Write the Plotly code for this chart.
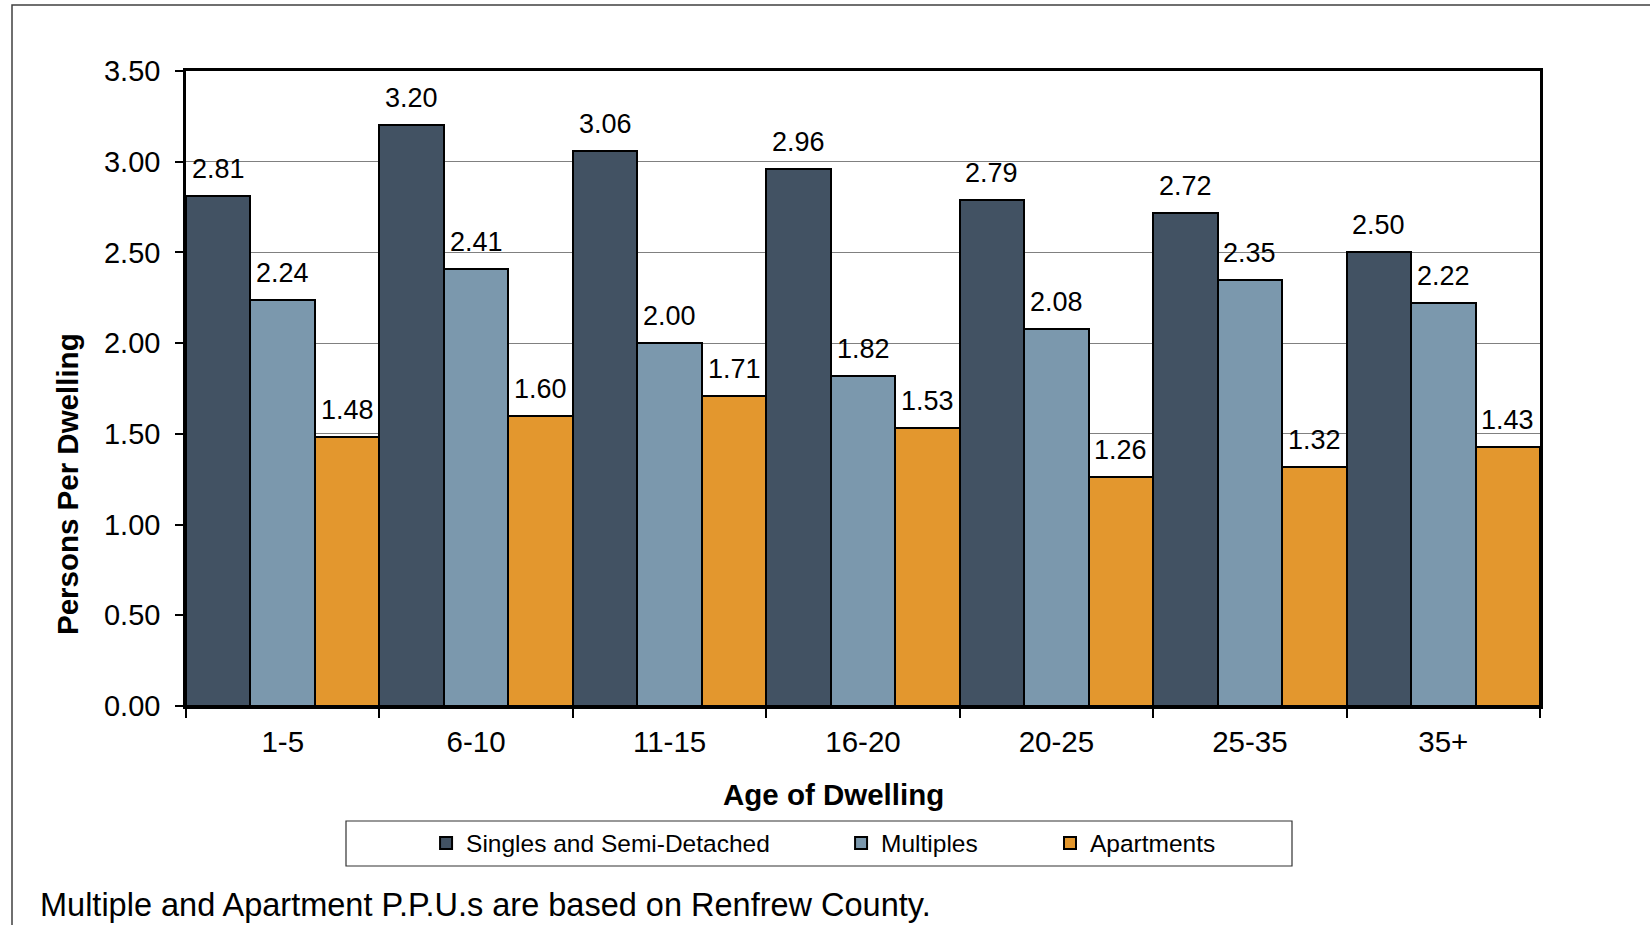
import plotly.graph_objects as go

# Persons per dwelling by age of dwelling and dwelling type
age_groups = ["1-5", "6-10", "11-15", "16-20", "20-25", "25-35", "35+"]
singles = [2.81, 3.20, 3.06, 2.96, 2.79, 2.72, 2.50]
multiples = [2.24, 2.41, 2.00, 1.82, 2.08, 2.35, 2.22]
apartments = [1.48, 1.60, 1.71, 1.53, 1.26, 1.32, 1.43]

series_names = ["Singles and Semi-Detached", "Multiples", "Apartments"]
series_colors = ["#425263", "#7B98AD", "#E3972E"]
series_values = [singles, multiples, apartments]
legend_ids = ["legend", "legend2", "legend3"]
legend_x = [0.1773, 0.4838, 0.6381]

W, H = 1650, 925
M_L, M_R, M_T, M_B = 186, 110, 71, 219
PW, PH = W - M_L - M_R, H - M_T - M_B

FONT = "Liberation Sans, Arial, sans-serif"

fig = go.Figure()
for name, color, vals, lg in zip(series_names, series_colors, series_values, legend_ids):
    fig.add_trace(go.Bar(
        x=age_groups, y=vals, name=name, legend=lg,
        marker=dict(color=color, line=dict(color="black", width=2)),
    ))

# value labels above each bar (bars sit at -1/3, 0, +1/3 of each category slot)
n_series = len(series_values)
annotations = []
for k, vals in enumerate(series_values):
    offset = (k - (n_series - 1) / 2) / n_series
    for i, v in enumerate(vals):
        annotations.append(dict(
            x=i + offset, y=v, xref="x", yref="y",
            text=f"{v:.2f}", showarrow=False,
            yanchor="middle", yshift=27,
            font=dict(family=FONT, size=27, color="black"),
        ))

def px_x(p):
    return (p - M_L) / PW

def px_y(p):
    return (M_T + PH - p) / PH

annotations += [
    dict(text="<b>Age of Dwelling</b>", xref="paper", yref="paper",
         x=px_x(833), y=px_y(794), showarrow=False,
         xanchor="center", yanchor="middle",
         font=dict(family=FONT, size=29.5, color="black")),
    dict(text="<b>Persons Per Dwelling</b>", xref="paper", yref="paper",
         x=px_x(67), y=px_y(484), showarrow=False, textangle=-90,
         xanchor="center", yanchor="middle",
         font=dict(family=FONT, size=29.5, color="black")),
    dict(text="Multiple and Apartment P.P.U.s are based on Renfrew County.",
         xref="paper", yref="paper", x=px_x(38), y=px_y(905),
         showarrow=False, xanchor="left", yanchor="middle",
         font=dict(family=FONT, size=32.5, color="black")),
]

shapes = [
    # outer frame
    dict(type="rect", xref="paper", yref="paper",
         x0=px_x(12), x1=px_x(1700), y0=px_y(1000), y1=px_y(5),
         line=dict(color="#404040", width=1.5), fillcolor="rgba(0,0,0,0)"),
    # legend box
    dict(type="rect", xref="paper", yref="paper",
         x0=px_x(346), x1=px_x(1292), y0=px_y(866), y1=px_y(821),
         line=dict(color="#333333", width=1.2), fillcolor="rgba(0,0,0,0)"),
]

legend_style = dict(
    orientation="h", yanchor="middle", xanchor="left", y=px_y(843),
    bgcolor="rgba(0,0,0,0)", borderwidth=0,
    font=dict(family=FONT, size=24.5, color="black"),
)
layout_legends = {}
for lg, lx in zip(legend_ids, legend_x):
    layout_legends[lg] = dict(legend_style, x=lx)

fig.update_layout(
    width=W, height=H,
    margin=dict(l=M_L, r=M_R, t=M_T, b=M_B, autoexpand=False),
    paper_bgcolor="white", plot_bgcolor="white",
    barmode="group", bargap=0, bargroupgap=0,
    showlegend=True,
    annotations=annotations, shapes=shapes,
    font=dict(family=FONT, color="black"),
    **layout_legends,
)

fig.update_xaxes(
    type="category", tickson="boundaries",
    ticks="outside", ticklen=9, tickwidth=1.5, tickcolor="black",
    showline=True, linecolor="black", linewidth=2.5, mirror=True,
    showgrid=False, tickfont=dict(family=FONT, size=29.5, color="black"),
    ticklabelstandoff=8,
)
fig.update_yaxes(
    range=[0, 3.5], dtick=0.5, tickformat=".2f",
    ticks="outside", ticklen=8, tickwidth=1.5, tickcolor="black",
    showline=True, linecolor="black", linewidth=2.5, mirror=True,
    showgrid=True, gridcolor="#808080", gridwidth=1.2,
    zeroline=False, tickfont=dict(family=FONT, size=29, color="black"),
    ticklabelstandoff=9,
)

fig.write_html("out.html")
